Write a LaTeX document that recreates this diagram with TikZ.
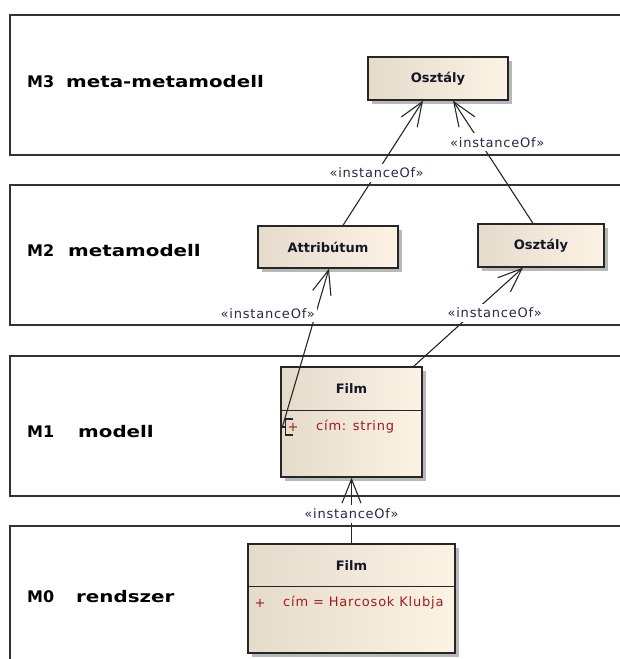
\documentclass[tikz,border=0pt]{standalone}
\usepackage{fontspec}
\setmainfont{DejaVu Sans}
\newfontfamily\layerfont[FakeStretch=1.24]{DejaVu Sans}
\newfontfamily\tagfont[LetterSpace=6]{DejaVu Sans}
\usetikzlibrary{arrows.meta,shadows,calc}

\definecolor{boxl}{RGB}{229,219,203}
\definecolor{boxr}{RGB}{252,243,229}
\definecolor{frameline}{RGB}{50,50,50}
\definecolor{tagtext}{RGB}{52,34,70}
\definecolor{attrtext}{RGB}{158,28,28}
\definecolor{titletext}{RGB}{22,22,40}

\tikzset{
  layerframe/.style={draw=frameline, line width=1.5pt, anchor=north west, inner sep=0pt,
    minimum width=640pt, minimum height=140pt},
  layerid/.style={anchor=base west, inner sep=0pt, text=black,
    font=\bfseries\fontsize{16}{19}\selectfont},
  layertitle/.style={anchor=base west, inner sep=0pt, text=black,
    font=\layerfont\bfseries\fontsize{16}{19}\selectfont},
  classbox/.style={draw=black!85, line width=1.3pt, left color=boxl, right color=boxr,
    inner sep=0pt, text=titletext, font=\bfseries\fontsize{13}{15}\selectfont,
    drop shadow={shadow xshift=4pt, shadow yshift=-4pt, fill=black!28, opacity=1}},
  classtitle/.style={inner sep=0pt, text=titletext, font=\bfseries\fontsize{13}{15}\selectfont},
  attrrow/.style={anchor=west, inner sep=0pt, text=attrtext, font=\tagfont\fontsize{13}{15}\selectfont},
  divider/.style={draw=black!85, line width=1.3pt},
  dep/.style={draw=black!85, line width=1.1pt,
    -{Straight Barb[length=24pt, width=19pt, line width=1.1pt]}},
  tag/.style={fill=white, inner sep=2pt, minimum height=18pt, text=tagtext,
    font=\tagfont\fontsize{13}{15}\selectfont},
}

\begin{document}
\begin{tikzpicture}[x=1pt, y=-1pt]
\useasboundingbox (0,0) rectangle (620,659);
\clip (0,0) rectangle (620,659);

% metalevel frames
\node[layerframe] (m3) at (9,14) {};
\node[layerframe] (m2) at (9,184) {};
\node[layerframe] (m1) at (9,355) {};
\node[layerframe, minimum height=170pt] (m0) at (9,525) {};

% metalevel captions
\node[layerid]    (m3id)   at (27,87)  {M3};
\node[layertitle] (m3name) at (66,87)  {meta-metamodell};
\node[layerid]    (m2id)   at (27,256) {M2};
\node[layertitle] (m2name) at (68,256) {metamodell};
\node[layerid]    (m1id)   at (27,437) {M1};
\node[layertitle] (m1name) at (78,437) {modell};
\node[layerid]    (m0id)   at (27,602) {M0};
\node[layertitle] (m0name) at (76,602) {rendszer};

% classes
\node[classbox, minimum width=140pt, minimum height=43pt] (osz3) at (438,78.5) {Osztály};
\node[classbox, minimum width=140pt, minimum height=42pt] (attr) at (328,247) {Attribútum};
\node[classbox, minimum width=126pt, minimum height=43pt] (osz2) at (541,245.5) {Osztály};

% M1 class with one attribute
\node[classbox, minimum width=141pt, minimum height=110pt] (film1) at (351.5,422) {};
\draw[divider] ([yshift=-44pt]film1.north west) -- ([yshift=-44pt]film1.north east);
\node[classtitle] (film1t) at ([yshift=-22pt]film1.north) {Film};
\node[attrrow] (film1plus) at (287.5,427) {+};
\node[attrrow] (film1cim) at (316,427) {cím: string};

% M0 object with its slot
\node[classbox, minimum width=207pt, minimum height=109pt] (film0) at (351.5,598.5) {};
\draw[divider] ([yshift=-43pt]film0.north west) -- ([yshift=-43pt]film0.north east);
\node[classtitle] (film0t) at ([yshift=-22pt]film0.north) {Film};
\node[attrrow] (film0plus) at (254.5,603) {+};
\node[attrrow] (film0cim) at (283,603) {cím = Harcosok Klubja};

% attribute port bracket
\coordinate (cimport) at ([xshift=2pt]film1.west |- film1plus.center);
\draw[draw=black!85, line width=1.1pt] ($(cimport)+(11,-8)$) -- ++(-8,0) -- ++(0,16) -- ++(8,0);
\draw[draw=black!85, line width=1.1pt] (cimport) -- ++(3,0);

% instanceOf dependencies
\draw[dep] ([xshift=15pt]attr.north) -- ([xshift=-15pt]osz3.south)
  node[tag, pos=0.42] {«instanceOf»};
\draw[dep] ([xshift=-8pt]osz2.north) -- ([xshift=15pt]osz3.south)
  node[tag, pos=0.66, xshift=17pt] {«instanceOf»};
\draw[dep] (cimport) -- ([xshift=1pt]attr.south)
  node[tag, pos=0.717, xshift=-48pt] {«instanceOf»};
\draw[dep] ([xshift=-9pt]film1.north east) -- ([xshift=-18pt]osz2.south)
  node[tag, pos=0.54, xshift=22pt] {«instanceOf»};
\draw[dep] (film0.north) -- (film1.south)
  node[tag, pos=0.45] {«instanceOf»};
\end{tikzpicture}
\end{document}
